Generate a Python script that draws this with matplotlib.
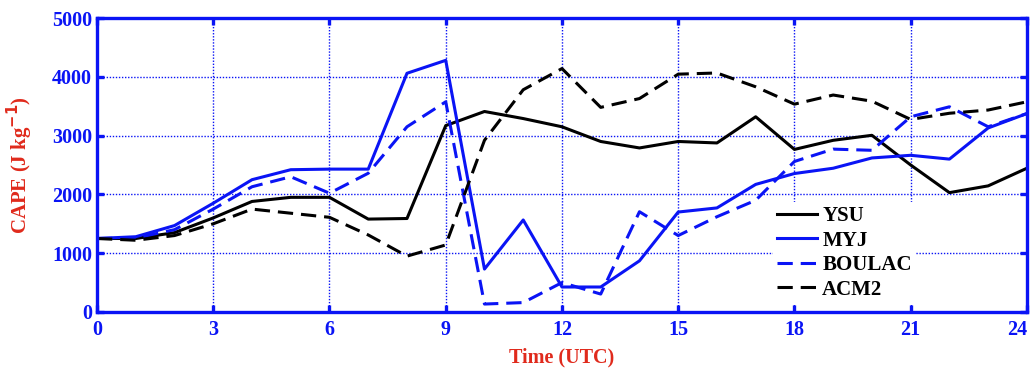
import matplotlib.pyplot as plt
import numpy as np

# --- Data ---
hours = np.arange(0, 25)
ysu = [1250, 1250, 1350, 1600, 1880, 1950, 1950, 1580, 1590, 3170, 3410, 3290, 3150,
       2900, 2790, 2900, 2875, 3320, 2765, 2920, 3005, 2500, 2030, 2145, 2445]
myj = [1250, 1280, 1470, 1850, 2250, 2420, 2430, 2430, 4060, 4280, 730, 1565, 425,
       425, 870, 1700, 1770, 2170, 2355, 2445, 2620, 2665, 2600, 3130, 3375]
boulac = [1250, 1260, 1400, 1750, 2130, 2300, 2020, 2360, 3150, 3575, 135, 160, 500,
          305, 1705, 1300, 1620, 1900, 2560, 2770, 2750, 3320, 3490, 3150, 3375]
acm2 = [1250, 1220, 1300, 1500, 1750, 1680, 1610, 1310, 950, 1140, 2920, 3780, 4140,
        3480, 3630, 4045, 4065, 3830, 3535, 3690, 3585, 3275, 3380, 3435, 3575]

BLUE = "#0a14f5"
RED = "#e02a1c"
FONT = ["Liberation Serif", "DejaVu Serif"]

plt.rcParams["font.family"] = FONT
plt.rcParams["font.weight"] = "bold"

fig = plt.figure(figsize=(10.3, 3.69), dpi=100)
ax = fig.add_axes([0.0942, 0.1545, 0.9028, 0.7967])

lw = 2.2
dash = (0, (5, 2.6))
ax.plot(hours, ysu, color="black", linewidth=lw, label="YSU")
ax.plot(hours, myj, color=BLUE, linewidth=lw, label="MYJ")
ax.plot(hours, boulac, color=BLUE, linewidth=lw, linestyle=dash, label="BOULAC")
ax.plot(hours, acm2, color="black", linewidth=lw, linestyle=dash, label="ACM2")

ax.set_xlim(0, 24)
ax.set_ylim(0, 5000)
ax.set_xticks(np.arange(0, 25, 3))
ax.set_yticks(np.arange(0, 5001, 1000))
ax.grid(True, color=BLUE, linestyle=(0, (1, 1.2)), linewidth=1.0)

for s in ax.spines.values():
    s.set_color(BLUE)
    s.set_linewidth(2.4)
ax.tick_params(direction="in", length=5, width=2.4, color=BLUE,
               top=True, right=True, labelcolor=BLUE, labelsize=14.5)
ax.tick_params(axis="x", pad=6)
for lab in ax.get_xticklabels() + ax.get_yticklabels():
    lab.set_fontweight("bold")
# last x label sits flush with the right edge, as in the original
ax.get_xticklabels()[-1].set_horizontalalignment("right")

ax.set_xlabel("Time (UTC)", color=RED, fontsize=14.5, fontweight="bold", labelpad=5)
ax.set_ylabel("CAPE (J kg$^{\\mathbf{-1}}$)", color=RED, fontsize=15,
              fontweight="bold", labelpad=12)

leg = ax.legend(loc="upper left", bbox_to_anchor=(0.716, 0.41), frameon=True,
                fancybox=False, edgecolor="none", facecolor="white", framealpha=1,
                fontsize=15, handlelength=1.9, handletextpad=0.25,
                labelspacing=0.22, borderpad=0.2)
for t in leg.get_texts():
    t.set_fontweight("bold")

fig.savefig("out.png", dpi=100)
